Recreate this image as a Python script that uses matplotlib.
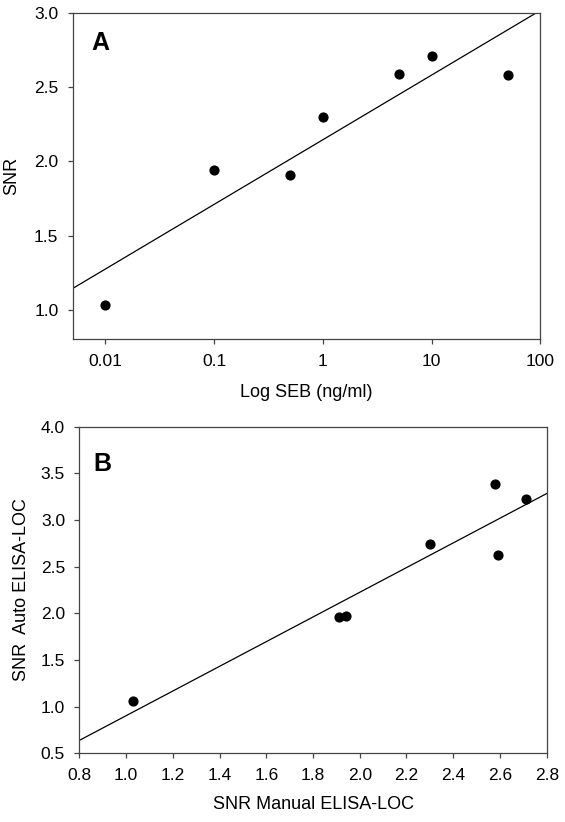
import numpy as np
import matplotlib
matplotlib.use("Agg")
from matplotlib import pyplot as plt
from matplotlib.ticker import FixedLocator, FixedFormatter, NullLocator

plt.rcParams['font.family'] = ['Liberation Sans', 'DejaVu Sans']

# Panel A data: SEB concentration vs SNR (manual ELISA-LOC)
seb_conc = [0.01, 0.1, 0.5, 1, 5, 10, 50]
snr_manual = [1.03, 1.94, 1.91, 2.30, 2.59, 2.71, 2.58]

# Panel B data: auto ELISA-LOC SNR for the same samples
snr_auto = [1.06, 1.97, 1.96, 2.74, 2.63, 3.23, 3.39]

a_xticks = [0.01, 0.1, 1, 10, 100]
a_xticklabels = ["0.01", "0.1", "1", "10", "100"]
a_yticks = [1.0, 1.5, 2.0, 2.5, 3.0]
b_xticks = [0.8, 1.0, 1.2, 1.4, 1.6, 1.8, 2.0, 2.2, 2.4, 2.6, 2.8]
b_yticks = [0.5, 1.0, 1.5, 2.0, 2.5, 3.0, 3.5, 4.0]

TICK_FS = 12.5
LABEL_FS = 13

fig = plt.figure(figsize=(5.65, 8.22), dpi=100)

def style(ax):
    for s in ax.spines.values():
        s.set_linewidth(0.9)
        s.set_color("#444444")
    ax.tick_params(direction="out", length=3.8, width=0.9, labelsize=TICK_FS,
                   top=False, right=False, color="#444444", pad=6.5)

# Panel A
axA = fig.add_axes([0.1287, 0.5870, 0.8279, 0.3975])
axA.scatter(seb_conc, snr_manual, s=40, color="black", zorder=3)
lx = np.log10(seb_conc)
slope, icpt = np.polyfit(lx, snr_manual, 1)
xx = np.logspace(np.log10(0.005), 2, 100)
axA.plot(xx, icpt + slope * np.log10(xx), color="black", lw=0.9)
axA.set_xscale("log")
axA.set_xlim(0.005, 100)
axA.set_ylim(0.80, 3.0)
axA.xaxis.set_major_locator(FixedLocator(a_xticks))
axA.xaxis.set_major_formatter(FixedFormatter(a_xticklabels))
axA.xaxis.set_minor_locator(NullLocator())
axA.set_yticks(a_yticks)
axA.set_yticklabels([f"{v:.1f}" for v in a_yticks])
axA.set_xlabel("Log SEB (ng/ml)", fontsize=LABEL_FS, labelpad=11)
axA.set_ylabel("SNR", fontsize=LABEL_FS, labelpad=10)
axA.text(0.04, 0.886, "A", transform=axA.transAxes, fontsize=18,
         fontweight="bold", va="baseline", ha="left")
style(axA)

# Panel B
axB = fig.add_axes([0.1404, 0.0836, 0.8272, 0.3973])
axB.scatter(snr_manual, snr_auto, s=40, color="black", zorder=3)
slope_b, icpt_b = np.polyfit(snr_manual, snr_auto, 1)
xb = np.array([0.8, 2.8])
axB.plot(xb, icpt_b + slope_b * xb, color="black", lw=0.9)
axB.set_xlim(0.8, 2.8)
axB.set_ylim(0.5, 4.0)
axB.set_xticks(b_xticks)
axB.set_xticklabels([f"{v:.1f}" for v in b_xticks])
axB.set_yticks(b_yticks)
axB.set_yticklabels([f"{v:.1f}" for v in b_yticks])
axB.set_xlabel("SNR Manual ELISA-LOC", fontsize=LABEL_FS, labelpad=10)
axB.set_ylabel("SNR  Auto ELISA-LOC", fontsize=LABEL_FS, labelpad=8)
axB.text(0.03, 0.865, "B", transform=axB.transAxes, fontsize=18,
         fontweight="bold", va="baseline", ha="left")
style(axB)

fig.savefig("out.png", dpi=100)
